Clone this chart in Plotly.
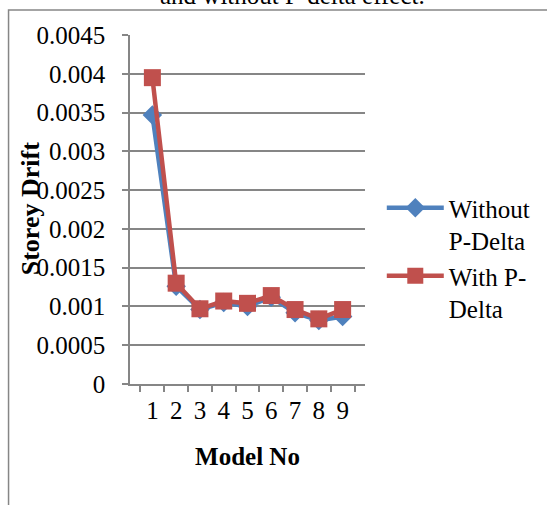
import plotly.graph_objects as go

# Storey drift per model, with and without P-Delta analysis
models = ["1", "2", "3", "4", "5", "6", "7", "8", "9"]
without_pdelta = [0.00347, 0.00126, 0.00096, 0.00105, 0.00100, 0.00112, 0.00092, 0.00082, 0.00087]
with_pdelta = [0.00395, 0.00130, 0.00097, 0.00107, 0.00104, 0.00114, 0.00096, 0.00084, 0.00096]

FONT = "Liberation Serif"
GRID = "#868686"
W, H = 547, 505
L, R, T, B = 130, 179, 35, 121
PW, PH = W - L - R, H - T - B


def px_x(p):
    return (p - L) / PW


def px_y(p):
    return (H - B - p) / PH


fig = go.Figure()
fig.add_trace(go.Scatter(
    x=models, y=without_pdelta, name="Without<br>P-Delta", mode="lines+markers",
    line=dict(color="#4F81BD", width=4.5),
    marker=dict(symbol="diamond", size=15, color="#4F81BD"),
))
fig.add_trace(go.Scatter(
    x=models, y=with_pdelta, name="With P-<br>Delta", mode="lines+markers",
    line=dict(color="#C0504D", width=4.5),
    marker=dict(symbol="square", size=17, color="#C0504D"),
))

fig.update_layout(
    width=W, height=H,
    margin=dict(l=L, r=R, t=T, b=B),
    paper_bgcolor="white", plot_bgcolor="white",
    font=dict(family=FONT, size=25, color="black"),
    showlegend=True,
    legend=dict(x=px_x(385), y=px_y(185), xanchor="left", yanchor="top",
                font=dict(size=25), itemwidth=57, bgcolor="rgba(0,0,0,0)",
                valign="top", tracegroupgap=0),
    xaxis=dict(
        type="category", tickson="boundaries", ticks="outside", ticklen=6,
        tickcolor=GRID, tickwidth=1.5, showgrid=False, dtick=1,
        showline=True, linecolor=GRID, linewidth=1.5,
        title=dict(text="<b>Model No</b>", standoff=25, font=dict(size=25)),
        tickfont=dict(size=25), ticklabelstandoff=3,
    ),
    yaxis=dict(
        range=[0, 0.0045], dtick=0.0005, tickformat="~g",
        ticks="outside", ticklen=6, tickcolor=GRID, tickwidth=1.5,
        showgrid=True, gridcolor=GRID, gridwidth=1.5,
        showline=True, linecolor=GRID, linewidth=1.5,
        zeroline=False, ticklabelstandoff=12,
        tickfont=dict(size=25),
    ),
    shapes=[dict(
        type="rect", xref="paper", yref="paper",
        x0=px_x(7), x1=px_x(600), y0=px_y(600), y1=px_y(10),
        line=dict(color=GRID, width=1.5), layer="below",
    )],
    annotations=[
        dict(
            text="and without P-delta effect.", xref="paper", yref="paper",
            x=px_x(295), y=px_y(11), xanchor="center", yanchor="bottom",
            showarrow=False, font=dict(size=25),
        ),
        dict(
            text="<b>Storey Drift</b>", xref="paper", yref="paper",
            x=px_x(29), y=px_y(209), xanchor="center", yanchor="middle",
            textangle=-90, showarrow=False, font=dict(size=26),
        ),
    ],
)

fig.write_html("out.html")
